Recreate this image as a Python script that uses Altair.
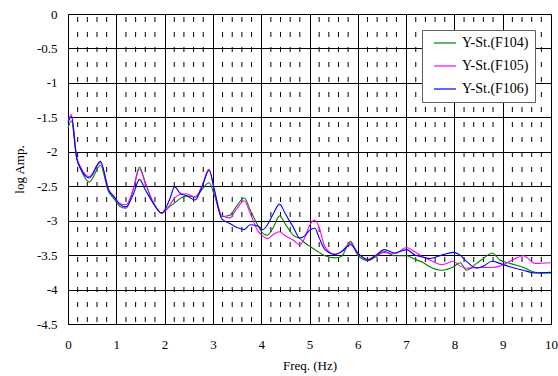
import altair as alt
import pandas as pd

freq = [0, 0.07, 0.18, 0.26, 0.44, 0.67, 0.84, 0.95, 1.07, 1.2,
        1.35, 1.48, 1.6, 1.74, 1.94, 2.1, 2.21, 2.32, 2.46, 2.63,
        2.77, 2.92, 3.04, 3.18, 3.35, 3.5, 3.65, 3.77, 3.94, 4.03,
        4.13, 4.25, 4.38, 4.5, 4.66, 4.8, 4.9, 5.0, 5.11, 5.2,
        5.32, 5.53, 5.66, 5.85, 6.0, 6.21, 6.38, 6.55, 6.76, 7.01,
        7.18, 7.36, 7.49, 7.74, 7.98, 8.12, 8.25, 8.46, 8.6, 8.78,
        8.94, 9.15, 9.43, 9.67, 10]

f104 = [-1.66, -1.55, -2.10, -2.25, -2.44, -2.20, -2.58, -2.68, -2.79, -2.82,
        -2.55, -2.22, -2.45, -2.70, -2.89, -2.80, -2.74, -2.68, -2.64, -2.66,
        -2.55, -2.45, -2.65, -2.94, -2.92, -2.78, -2.67, -2.84, -3.08, -3.18,
        -3.21, -3.10, -2.93, -3.05, -3.21, -3.26, -3.32, -3.37, -3.42, -3.46,
        -3.51, -3.54, -3.52, -3.30, -3.50, -3.58, -3.52, -3.45, -3.51, -3.51,
        -3.56, -3.61, -3.67, -3.72, -3.67, -3.61, -3.72, -3.62, -3.55, -3.47,
        -3.57, -3.62, -3.68, -3.75, -3.76]

f105 = [-1.56, -1.46, -2.08, -2.22, -2.36, -2.16, -2.55, -2.65, -2.75, -2.77,
        -2.55, -2.25, -2.45, -2.70, -2.89, -2.78, -2.67, -2.62, -2.61, -2.66,
        -2.50, -2.25, -2.60, -2.92, -2.96, -2.82, -2.71, -2.89, -3.16, -3.22,
        -3.26, -3.20, -3.16, -3.22, -3.28, -3.35, -3.25, -3.07, -2.99, -3.10,
        -3.38, -3.49, -3.45, -3.33, -3.47, -3.56, -3.50, -3.46, -3.48, -3.39,
        -3.45, -3.53, -3.57, -3.64, -3.59, -3.66, -3.69, -3.68, -3.68, -3.68,
        -3.66, -3.59, -3.51, -3.62, -3.61]

f106 = [-1.58, -1.49, -2.09, -2.24, -2.38, -2.14, -2.55, -2.65, -2.76, -2.80,
        -2.62, -2.40, -2.55, -2.72, -2.89, -2.70, -2.51, -2.60, -2.64, -2.70,
        -2.52, -2.27, -2.58, -2.97, -3.04, -3.10, -3.13, -3.06, -3.08, -3.13,
        -3.06, -2.90, -2.76, -2.90, -3.09, -3.25, -3.22, -3.14, -3.11, -3.25,
        -3.42, -3.49, -3.45, -3.35, -3.47, -3.57, -3.50, -3.42, -3.47, -3.42,
        -3.50, -3.53, -3.55, -3.50, -3.46, -3.50, -3.59, -3.69, -3.66, -3.59,
        -3.62, -3.67, -3.72, -3.76, -3.75]

series_names = ["Y-St.(F104)", "Y-St.(F105)", "Y-St.(F106)"]
series_colors = ["#008000", "#FF00FF", "#0000FF"]

minor_x = [0.2, 0.4, 0.6, 0.8, 1.2, 1.4, 1.6, 1.8, 2.2, 2.4, 2.6, 2.8,
           3.2, 3.4, 3.6, 3.8, 4.2, 4.4, 4.6, 4.8, 5.2, 5.4, 5.6, 5.8,
           6.2, 6.4, 6.6, 6.8, 7.2, 7.4, 7.6, 7.8, 8.2, 8.4, 8.6, 8.8,
           9.2, 9.4, 9.6, 9.8]

x_ticks = [0, 1, 2, 3, 4, 5, 6, 7, 8, 9, 10]
y_ticks = [-4.5, -4.0, -3.5, -3.0, -2.5, -2.0, -1.5, -1.0, -0.5, 0.0]

rows = []
for name, vals in zip(series_names, [f104, f105, f106]):
    for f, v in zip(freq, vals):
        rows.append({"freq": f, "amp": v, "series": name})
df = pd.DataFrame(rows)
minor_df = pd.DataFrame({"x": minor_x})

FONT = "Liberation Serif"

x_scale = alt.Scale(domain=[0, 10], nice=False, zero=False)
y_scale = alt.Scale(domain=[-4.5, 0], nice=False, zero=False)

x_axis = alt.Axis(values=x_ticks, title="Freq. (Hz)", grid=True,
                  gridColor="#000000", gridOpacity=1, gridWidth=1,
                  domainColor="#000000", ticks=False, labelPadding=14,
                  labelOverlap=False, labelFlush=False,
                  labelFont=FONT, labelFontSize=13, labelColor="#000",
                  titleFont=FONT, titleFontSize=13, titleFontWeight="normal",
                  titleColor="#000", titleY=35, titleBaseline="top")
y_axis = alt.Axis(values=y_ticks, title="log Amp.", grid=True,
                  gridColor="#000000", gridOpacity=1, gridWidth=1,
                  domainColor="#000000", ticks=False, labelPadding=11,
                  labelOverlap=False, labelFlush=False, labelBound=False,
                  labelFont=FONT, labelFontSize=13, labelColor="#000",
                  labelExpr="replace(format(datum.value, '.2~f'), '\u2212', '-')",
                  titleFont=FONT, titleFontSize=13, titleFontWeight="normal",
                  titleColor="#000", titleX=-49, titleY=155, titleAngle=270,
                  titleAlign="center", titleBaseline="middle")

lines = alt.Chart(df).mark_line(strokeWidth=1.1, interpolate="monotone").encode(
    x=alt.X("freq:Q", scale=x_scale, axis=x_axis),
    y=alt.Y("amp:Q", scale=y_scale, axis=y_axis),
    color=alt.Color("series:N",
                    scale=alt.Scale(domain=series_names, range=series_colors),
                    legend=alt.Legend(title=None, orient="none", legendX=354, legendY=16,
                                      fillColor="white", strokeColor="#606060",
                                      padding=6, symbolType="M-2,0L2,0", symbolSize=121,
                                      symbolOffset=10, symbolStrokeWidth=1.2, rowPadding=9,
                                      labelFont=FONT, labelFontSize=14, labelColor="#000",
                                      labelOffset=10)),
)

minor = alt.Chart(minor_df).mark_rule(
    color="#000000", strokeWidth=1, strokeDash=[5, 10], strokeDashOffset=12
).encode(
    x=alt.X("x:Q", scale=x_scale, axis=x_axis),
    y=alt.YDatum(0, scale=y_scale, axis=y_axis),
    y2=alt.Y2Datum(-4.5),
)

chart = alt.layer(minor, lines).properties(
    width=483, height=310, autosize="none",
    padding={"left": 68, "top": 14, "right": 7, "bottom": 52},
    background="white",
).configure_view(stroke=None)

chart.save("out.html", embed_options={"renderer": "svg", "actions": False})
